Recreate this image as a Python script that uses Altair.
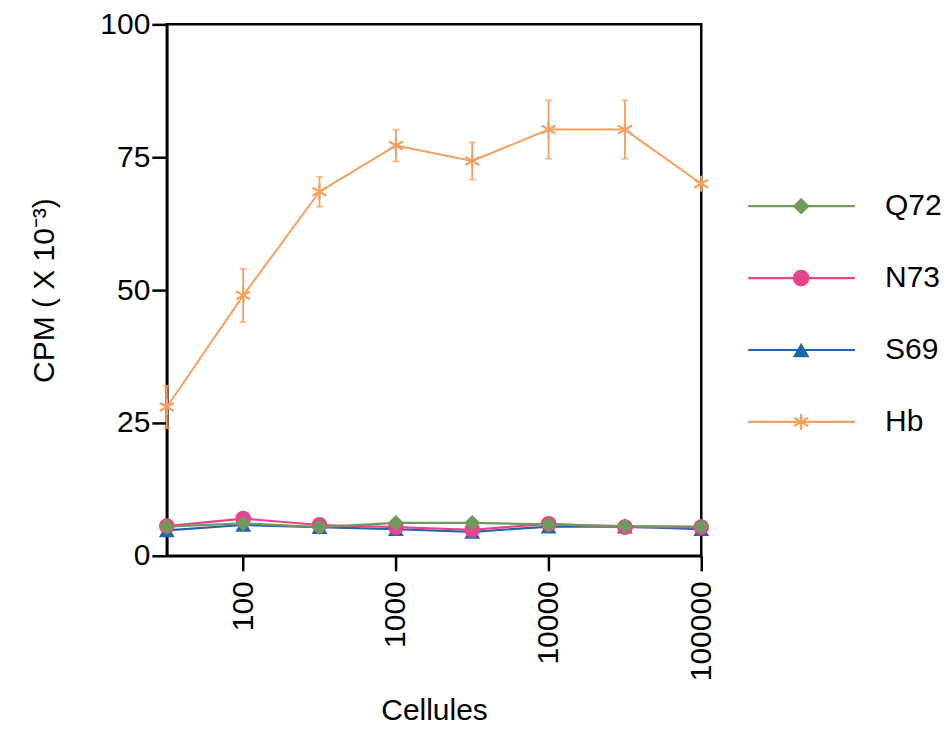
import altair as alt
import pandas as pd

cells = [31.6, 100, 316, 1000, 3162, 10000, 31623, 100000]
hb = [28.0, 49.0, 68.5, 77.2, 74.3, 80.2, 80.2, 70.0]
hb_err = [4.0, 5.0, 2.8, 3.0, 3.5, 5.5, 5.5, 0.0]
q72 = [5.5, 6.1, 5.4, 6.2, 6.2, 5.9, 5.6, 5.5]
n73 = [5.6, 7.0, 5.8, 5.4, 4.9, 6.0, 5.4, 5.4]
s69 = [4.8, 5.8, 5.4, 5.0, 4.5, 5.5, 5.5, 5.0]

series_names = ["Q72", "N73", "S69", "Hb"]
series_colors = ["#6f9a5b", "#e8438c", "#1f66ad", "#f5a05e"]
low_shapes = ["diamond", "circle", "triangle-up"]
asterisk = "M0,-1L0,1M-0.866,-0.5L0.866,0.5M-0.866,0.5L0.866,-0.5"

FONT = "Liberation Sans"
FS = 30

rows = []
for name, vals in [("S69", s69), ("N73", n73), ("Q72", q72)]:
    for c, v in zip(cells, vals):
        rows.append({"series": name, "cells": c, "cpm": v})
low_df = pd.DataFrame(rows)
hb_df = pd.DataFrame({
    "series": "Hb",
    "cells": cells,
    "cpm": hb,
    "lo": [v - e for v, e in zip(hb, hb_err)],
    "hi": [v + e for v, e in zip(hb, hb_err)],
    "err": hb_err,
})
hb_err_df = hb_df[hb_df["err"] > 0]

color_scale = alt.Scale(domain=series_names, range=series_colors)
xscale = alt.Scale(type="log", domain=[31.6, 100000], nice=False)
yscale = alt.Scale(domain=[0, 100], nice=False)

x_enc = alt.X("cells:Q", scale=xscale, title="Cellules",
              axis=alt.Axis(values=[100, 1000, 10000, 100000], format="d",
                            labelAngle=270, labelAlign="right", labelBaseline="middle",
                            grid=False, tickSize=15, tickWidth=2.5, domainWidth=2.5,
                            domainColor="black", tickColor="black",
                            labelFontSize=FS, titleFontSize=FS, labelFont=FONT, titleFont=FONT,
                            labelColor="black", titleColor="black", titleFontWeight="normal",
                            labelPadding=10, titlePadding=15))
y_enc = alt.Y("cpm:Q", scale=yscale, title="CPM ( X 10⁻³)",
              axis=alt.Axis(values=[0, 25, 50, 75, 100], grid=False, tickSize=15,
                            tickWidth=2.5, domainWidth=2.5, domainColor="black",
                            tickColor="black", labelFontSize=FS, titleFontSize=FS,
                            labelFont=FONT, titleFont=FONT, labelColor="black",
                            titleColor="black", titleFontWeight="normal",
                            labelPadding=2, titlePadding=40))

low_lines = alt.Chart(low_df).mark_line(strokeWidth=2.2).encode(
    x=x_enc, y=y_enc,
    color=alt.Color("series:N", scale=color_scale, legend=None),
    detail="series:N",
)
low_points = alt.Chart(low_df).mark_point(filled=True, size=250, opacity=1).encode(
    x="cells:Q", y="cpm:Q",
    color=alt.Color("series:N", scale=color_scale, legend=None),
    shape=alt.Shape("series:N", scale=alt.Scale(domain=["Q72", "N73", "S69"], range=low_shapes), legend=None),
)
hb_line = alt.Chart(hb_df).mark_line(strokeWidth=2).encode(
    x="cells:Q", y="cpm:Q",
    color=alt.Color("series:N", scale=color_scale, legend=None),
)
hb_bars = alt.Chart(hb_err_df).mark_rule(strokeWidth=1.8).encode(
    x="cells:Q", y="lo:Q", y2="hi:Q",
    color=alt.Color("series:N", scale=color_scale, legend=None),
)
hb_cap_lo = alt.Chart(hb_err_df).mark_tick(orient="horizontal", size=7, thickness=1.8).encode(
    x="cells:Q", y="lo:Q",
    color=alt.Color("series:N", scale=color_scale, legend=None),
)
hb_cap_hi = alt.Chart(hb_err_df).mark_tick(orient="horizontal", size=7, thickness=1.8).encode(
    x="cells:Q", y="hi:Q",
    color=alt.Color("series:N", scale=color_scale, legend=None),
)
hb_points = alt.Chart(hb_df).mark_point(shape=asterisk, filled=False, size=260, strokeWidth=2.2, opacity=1).encode(
    x="cells:Q", y="cpm:Q",
    color=alt.Color("series:N", scale=color_scale, legend=None),
)

main = alt.layer(low_lines, low_points, hb_bars, hb_cap_lo, hb_cap_hi, hb_line, hb_points).properties(
    width=535, height=532
)

leg_df = pd.DataFrame({"series": series_names})
leg_y = alt.Y("series:N", sort=series_names, axis=None,
              scale=alt.Scale(range=[146, 434]))
leg_color = alt.Color("series:N", scale=color_scale, legend=None)
leg_rule = alt.Chart(leg_df).mark_rule(strokeWidth=2.2).encode(
    y=leg_y, x=alt.value(21), x2=alt.value(128), color=leg_color)
leg_pts = alt.Chart(leg_df[leg_df["series"] != "Hb"]).mark_point(filled=True, size=280, opacity=1).encode(
    y=leg_y, x=alt.value(74), color=leg_color,
    shape=alt.Shape("series:N", scale=alt.Scale(domain=["Q72", "N73", "S69"], range=low_shapes), legend=None))
leg_star = alt.Chart(leg_df[leg_df["series"] == "Hb"]).mark_point(shape=asterisk, filled=False, size=260, strokeWidth=2.2, opacity=1).encode(
    y=leg_y, x=alt.value(74), color=leg_color)
leg_text = alt.Chart(leg_df).mark_text(align="left", baseline="middle", fontSize=FS, font=FONT, color="black").encode(
    y=leg_y, x=alt.value(158), text="series:N")
legend = alt.layer(leg_rule, leg_pts, leg_star, leg_text).properties(
    width=200, height=532, view=alt.ViewBackground(stroke="transparent")
)

chart = alt.hconcat(main, legend, spacing=7).resolve_scale(color="shared").properties(
    padding={"left": 28, "top": 7, "right": 5, "bottom": 5}
).configure_view(stroke="black", strokeWidth=2.5)

chart.save("out.html", embed_options={"renderer": "svg", "actions": False})
